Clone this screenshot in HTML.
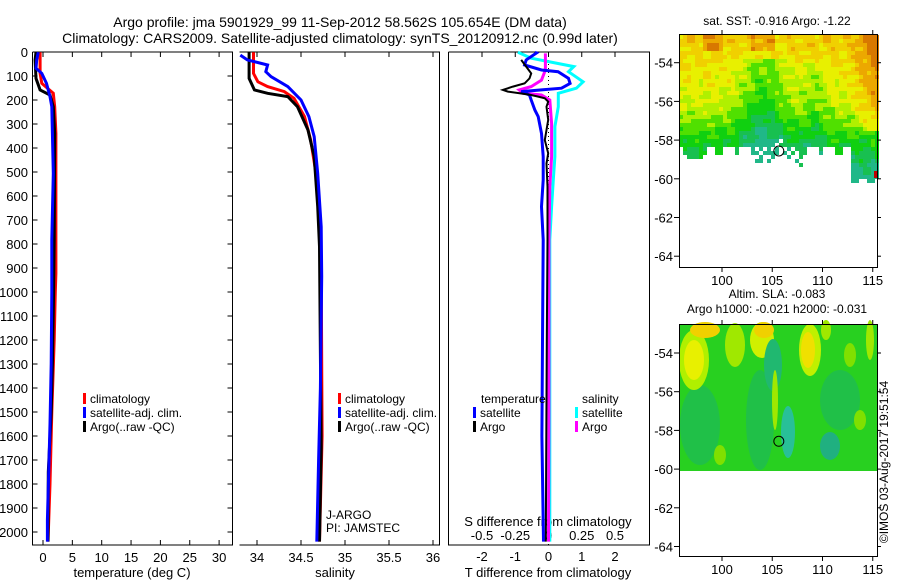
<!DOCTYPE html>
<html><head><meta charset="utf-8"><style>
html,body{margin:0;padding:0;background:#fff;}
svg{display:block;font-family:"Liberation Sans",sans-serif;}
text{fill:#000;}
</style></head><body>
<svg id="fig" width="900" height="580" viewBox="0 0 900 580">
<g id="titles">
<text x="340" y="27" font-size="14" text-anchor="middle">Argo profile: jma 5901929_99 11-Sep-2012 58.562S 105.654E (DM data)</text>
<text x="340" y="43" font-size="14" text-anchor="middle">Climatology: CARS2009. Satellite-adjusted climatology: synTS_20120912.nc (0.99d later)</text>
</g>
<g id="p1"></g>
<g id="p2"></g>
<g id="p3"></g>
<g id="m1"></g>
<g id="m2"></g>
<text transform="translate(888,462) rotate(-90)" font-size="12" text-anchor="middle">©IMOS 03-Aug-2017 19:51:54</text>
</svg>
<script>
// ---- data ----
const depthTicks = [0,100,200,300,400,500,600,700,800,900,1000,1100,1200,1300,1400,1500,1600,1700,1800,1900,2000];
const tempTicks = [0,5,10,15,20,25,30];
const salTicks = [34,34.5,35,35.5,36];
const salTickLabels = ["34","34.5","35","35.5","36"];
const tdiffTicks = [-2,-1,0,1,2];
const sdiffTicks = [-0.5,-0.25,0,0.25,0.5];
const sdiffTickLabels = ["-0.5","-0.25","0","0.25","0.5"];

const tClimDepth = [1,89,131,172,228,339,700,922,1000,1200,1500,1800,2040];
const tClim = [-0.5,-0.5,-0.2,1.75,2.0,2.2,2.2,2.2,2.1,1.9,1.5,1.2,0.85];
const tSatDepth = [1,33,68,89,131,186,228,339,506,783,1000,1300,1550,1950,2040];
const tSat = [-0.8,-1.07,-1.2,-0.2,0.6,1.2,1.5,1.6,1.75,1.5,1.5,1.4,1.2,0.75,0.75];
const tArgoDepth = [1,33,110,158,179,228,339,783,1000,1300,1500,1750,2040];
const tArgo = [-1.2,-1.35,-1.2,-0.5,1.2,1.75,2.0,1.9,1.8,1.6,1.4,0.9,0.85];

const sClimDepth = [1,89,124,144,165,193,269,367,506,714,908,1600,2040];
const sClim = [33.96,33.96,34.01,34.12,34.31,34.42,34.54,34.61,34.67,34.71,34.73,34.74,34.71];
const sSatDepth = [13,33,54,82,103,144,200,269,353,506,728,936,1400,1700,2040];
const sSat = [33.81,33.89,34.12,34.10,34.16,34.35,34.5,34.59,34.65,34.69,34.73,34.735,34.72,34.70,34.68];
const sArgoDepth = [1,110,158,172,186,228,325,436,644,811,1650,2040];
const sArgo = [33.91,33.91,33.97,34.12,34.35,34.46,34.58,34.65,34.69,34.71,34.73,34.71];

const dTSatDepth = [1,4,33,54,75,82,110,131,151,158,165,179,200,242,269,339,436,533,644,783,1200,1600,2040];
const dTSat = [-0.41,-0.36,-0.67,-0.72,-0.21,0.29,0.6,0.65,0.39,-0.21,-0.82,-0.57,-0.52,-0.41,-0.31,-0.21,-0.16,-0.16,-0.21,-0.16,-0.18,-0.2,-0.15];
const dTArgoDepth = [33,61,89,110,131,144,158,165,172,179,186,193,207,228,283,367,422,464,561,783,1200,1700,2040];
const dTArgo = [-0.82,-0.67,-0.52,-0.57,-0.72,-1.07,-1.37,-1.22,-0.87,-0.52,-0.31,-0.11,-0.01,-0.06,-0.01,-0.11,-0.01,-0.06,-0.03,-0.03,-0.05,-0.07,-0.08];
const dSSatDepth = [1,26,61,82,124,151,172,228,311,436,533,644,783,1200,2040];
const dSSat = [-0.23,-0.13,0.19,0.15,0.26,0.21,0.074,0.074,0.048,0.048,0.036,0.023,0.01,0.01,0.01];
const dSArgoDepth = [6,75,117,144,158,172,179,200,297,436,561,783,1500,2040];
const dSArgo = [-0.023,-0.023,-0.053,-0.13,-0.22,-0.19,-0.053,0.01,0.023,0.023,0.01,0.003,0.003,0.0];

const latTicks = [-54,-56,-58,-60,-62,-64];
const lonTicks = [100,105,110,115];
const argoLon = 105.654, argoLat = -58.562;

// ---- helpers ----
const NS = "http://www.w3.org/2000/svg";
function mk(parent, tag, attrs){ const e=document.createElementNS(NS,tag); for(const k in attrs) e.setAttribute(k,attrs[k]); parent.appendChild(e); return e; }
function txt(parent, x, y, s, size, anchor){ const e=mk(parent,'text',{x:x,y:y,'font-size':size,'text-anchor':anchor||'middle'}); e.textContent=s; return e; }

const TOP=52, BOT=545;
const yD = d => TOP + d*0.24;
const xT = t => 43 + t*5.87;
const xS = s => 257 + (s-34)*88;
const xDT = t => 548.5 + t*33.25;
const xDS = s => 548.5 + s*133;

function profile(g, depths, vals, xf, color, w, name){
  const pts = depths.map((d,i)=> xf(vals[i]).toFixed(1)+','+yD(d).toFixed(1)).join(' ');
  const p = mk(g,'polyline',{points:pts,fill:'none',stroke:color,'stroke-width':w,'stroke-linejoin':'miter'});
  
  
  return p;
}
function legendMark(g,x,y,color,label,name){
  const r = mk(g,'rect',{x:x,y:y-10,width:3,height:11,fill:color});
  
  
  const t = txt(g,x+7,y,label,12,'start');
  
  
}

// ---- panel 1: temperature ----
(function(){
  const g=document.getElementById('p1');
  const L=32.5,R=232.5;
  mk(g,'path',{d:`M${L},${TOP}V${BOT}H${R}V${TOP}H${L}`,fill:'none',stroke:'#000','stroke-width':1});
  depthTicks.forEach(d=>{
    mk(g,'line',{x1:L,x2:L+5,y1:yD(d),y2:yD(d),stroke:'#000'});
    mk(g,'line',{x1:R,x2:R-5,y1:yD(d),y2:yD(d),stroke:'#000'});
    const t=txt(g,28,yD(d)+5,String(d),13,'end');
    
    
  });
  tempTicks.forEach(v=>{
    mk(g,'line',{x1:xT(v),x2:xT(v),y1:TOP,y2:TOP+5,stroke:'#000'});
    mk(g,'line',{x1:xT(v),x2:xT(v),y1:BOT,y2:BOT-5,stroke:'#000'});
    const t=txt(g,xT(v),562,String(v),13);
    
    
  });
  const xl=txt(g,132,577,'temperature (deg C)',13);
  
  
  profile(g,tClimDepth,tClim,xT,'#f00',3,'temp-climatology-line');
  profile(g,tArgoDepth,tArgo,xT,'#000',3,'temp-argo-line');
  profile(g,tSatDepth,tSat,xT,'#00f',3,'temp-satellite-line');
  legendMark(g,83,403,'#f00','climatology','legend-climatology');
  legendMark(g,83,417,'#00f','satellite-adj. clim.','legend-satellite');
  legendMark(g,83,431,'#000','Argo(..raw -QC)','legend-argo');
})();

// ---- panel 2: salinity ----
(function(){
  const g=document.getElementById('p2');
  const L=239.5,R=439.5;
  mk(g,'path',{d:`M${L},${TOP}H${R}V${BOT}H${L}`,fill:'none',stroke:'#000','stroke-width':1});
  salTicks.forEach((v,i)=>{
    mk(g,'line',{x1:xS(v),x2:xS(v),y1:TOP,y2:TOP+5,stroke:'#000'});
    mk(g,'line',{x1:xS(v),x2:xS(v),y1:BOT,y2:BOT-5,stroke:'#000'});
    const t=txt(g,xS(v),562,salTickLabels[i],13);
    
    
  });
  const xl=txt(g,335,577,'salinity',13);
  
  
  profile(g,sClimDepth,sClim,xS,'#f00',3,'sal-climatology-line');
  profile(g,sArgoDepth,sArgo,xS,'#000',3,'sal-argo-line');
  profile(g,sSatDepth,sSat,xS,'#00f',3,'sal-satellite-line');
  legendMark(g,338,403,'#f00','climatology','legend-climatology');
  legendMark(g,338,417,'#00f','satellite-adj. clim.','legend-satellite');
  legendMark(g,338,431,'#000','Argo(..raw -QC)','legend-argo');
  const a=txt(g,326,519,'J-ARGO',12,'start');
  
  
  const b=txt(g,326,532,'PI: JAMSTEC',12,'start');
  
  
})();

// ---- panel 3: differences ----
(function(){
  const g=document.getElementById('p3');
  const L=448.5,R=649.5;
  mk(g,'path',{d:`M${L},${TOP}V${BOT}H${R}V${TOP}H${L}`,fill:'none',stroke:'#000','stroke-width':1});
  tdiffTicks.forEach(v=>{
    mk(g,'line',{x1:xDT(v),x2:xDT(v),y1:TOP,y2:TOP+5,stroke:'#000'});
    const t=txt(g,xDT(v),561,String(v),13);
    
    
  });
  sdiffTicks.forEach((v,i)=>{
    const t=txt(g,xDS(v),540,sdiffTickLabels[i],13);
    
    
  });
  mk(g,'line',{x1:xDT(0),x2:xDT(0),y1:TOP,y2:BOT,stroke:'#000','stroke-dasharray':'1,3'});
  const st=txt(g,548,526,'S difference from climatology',13);
  
  
  const tt=txt(g,548,577,'T difference from climatology',13);
  
  
  profile(g,dSSatDepth,dSSat,xDS,'#0ff',3,'sdiff-satellite-line');
  profile(g,dSArgoDepth,dSArgo,xDS,'#f0f',3,'sdiff-argo-line');
  profile(g,dTSatDepth,dTSat,xDT,'#00f',3,'tdiff-satellite-line');
  profile(g,dTArgoDepth,dTArgo,xDT,'#000',2,'tdiff-argo-line');
  const h1=txt(g,481,403,'temperature',12,'start');
  
  
  const h2=txt(g,582,403,'salinity',12,'start');
  
  
  legendMark(g,473,417,'#00f','satellite','legend-tdiff-satellite');
  legendMark(g,473,431,'#000','Argo','legend-tdiff-argo');
  legendMark(g,575,417,'#0ff','satellite','legend-sdiff-satellite');
  legendMark(g,575,431,'#f0f','Argo','legend-sdiff-argo');
})();

// ---- maps ----
function mapFrame(g, top, bottom, lat54, titleLines){
  const L=679,R=877;
  const yL = lat => lat54 + (-54-lat)*19.35;
  const xL = lon => 722 + (lon-100)*10.05;
  return {L,R,yL,xL,finish(){
    mk(g,'rect',{x:L+0.5,y:top+0.5,width:R-L,height:bottom-top,fill:'none',stroke:'#000'});
    latTicks.forEach(v=>{
      mk(g,'line',{x1:L-5,x2:L,y1:yL(v),y2:yL(v),stroke:'#000'});
      mk(g,'line',{x1:R,x2:R+4,y1:yL(v),y2:yL(v),stroke:'#000'});
      const t=txt(g,673,yL(v)+5,String(v),13,'end');
      
      
    });
    lonTicks.forEach(v=>{
      mk(g,'line',{x1:xL(v),x2:xL(v),y1:bottom,y2:bottom+5,stroke:'#000'});
      mk(g,'line',{x1:xL(v),x2:xL(v),y1:top,y2:top-4,stroke:'#000'});
      const t=txt(g,xL(v),bottom+18,String(v),13);
      
      
    });
    const c=mk(g,'circle',{cx:xL(argoLon),cy:yL(argoLat),r:5,fill:'none',stroke:'#000'});
    
    
    titleLines.forEach(([s,y])=>{const t=txt(g,777,y,s,12);
      
      });
  }};
}
const sstColors=['#20b888','#18c050','#10d010','#50e000','#b0f000','#e8f000','#f0d000','#eca800','#d87800'];
(function(){
  const g=document.getElementById('m1');
  const f=mapFrame(g,34,267,62.7,[['sat. SST: -0.916 Argo: -1.22',25]]);
  for(let y=35;y<180;y+=4){
    for(let x=679;x<877;x+=4){
      let b = 146 + (Math.sin(x*0.37)>0.3?6:0) + (x>850?30:0) + ((x>752&&x<800)?(Math.sin(x*0.9+y)>0?14:0):0) + ((x>770&&x<790)?-8:0);
      if((x>686&&x<700)&&y<158) b=158;
      if(y>b) continue;
      let v = y<100 ? 6.2-(y-34)/40 : 4.55-(y-100)/16;
      v -= 2.3*Math.exp(-Math.pow((x-762)/24,2))*(y>58?1:0.2);
      v -= 1.2*Math.exp(-Math.pow((x-812)/12,2))*(y>60?1:0);
      v += 2.6*Math.max(0,(x-845)/32)*(y<130?1:0);
      v += 0.8*Math.sin(x*0.23+y*0.17)*Math.cos(y*0.31-x*0.09);
      v += (y<50&&((x>700&&x<722)||(x>748&&x<772)))?1.4:0;
      let i=Math.max(0,Math.min(8,Math.round(v)));
      mk(g,'rect',{x:x,y:y,width:4,height:4,fill:sstColors[i]});
    }
  }
  mk(g,'rect',{x:874,y:171,width:3,height:7,fill:'#c00000'});
  f.finish();
})();
(function(){
  const g=document.getElementById('m2');
  const f=mapFrame(g,324,556,353,[['Altim. SLA: -0.083',298],['Argo h1000: -0.021 h2000: -0.031',313]]);
  const cg=mk(g,'g',{});
  
  
  mk(cg,'rect',{x:679,y:324,width:198,height:147,fill:'#28d020'});
  const blobs=[
    [700,425,20,40,'#20c048'],[760,420,14,50,'#20c048'],[840,400,20,30,'#20c048'],
    [694,360,15,30,'#b0f000'],[694,360,10,20,'#e8f000'],[705,330,15,8,'#f0d000'],
    [735,345,10,22,'#a0e800'],[762,340,12,18,'#d0f000'],[764,330,10,8,'#f0d000'],
    [810,350,11,26,'#c0f000'],[808,350,7,18,'#f0e000'],[826,330,5,10,'#a0e800'],
    [773,365,9,26,'#20b870'],[788,432,7,26,'#28c098'],[830,446,10,14,'#20b080'],
    [775,400,3,30,'#a0e800'],[720,455,6,10,'#80e000'],[860,420,6,10,'#80e000'],
    [850,355,6,12,'#80e000'],[870,340,4,20,'#a0e800']
  ];
  blobs.forEach(b=>mk(cg,'ellipse',{cx:b[0],cy:b[1],rx:b[2],ry:b[3],fill:b[4]}));
  f.finish();
})();
</script>
</body></html>
